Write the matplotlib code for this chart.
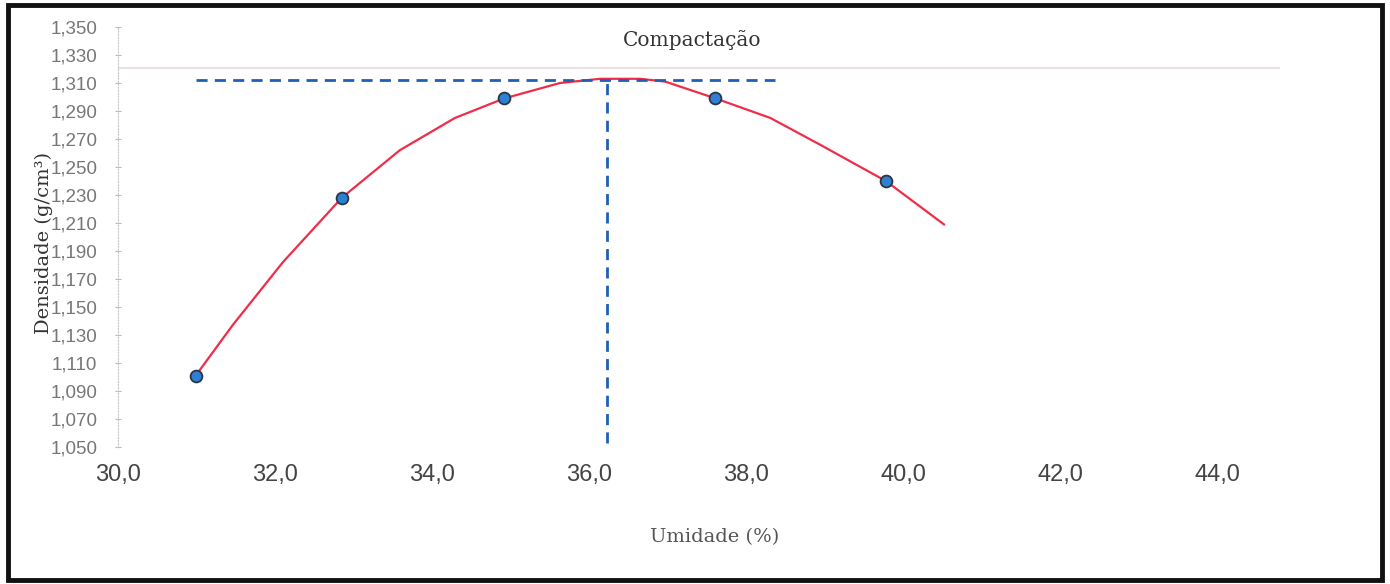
import matplotlib
matplotlib.use("Agg")
from matplotlib import pyplot as plt
from matplotlib.patches import Rectangle

# Measured points (umidade %, densidade g/cm3)
umidade = [30.99, 32.85, 34.92, 37.61, 39.78]
densidade = [1.101, 1.228, 1.299, 1.299, 1.240]

# Fitted curve
curva_x = [30.99, 31.46, 32.10, 32.85, 33.59, 34.29, 34.92, 35.63, 36.14,
           36.65, 36.97, 37.61, 38.31, 38.94, 39.78, 40.52]
curva_y = [1.101, 1.137, 1.182, 1.228, 1.262, 1.285, 1.299, 1.310, 1.313,
           1.313, 1.311, 1.299, 1.285, 1.266, 1.240, 1.209]

# Optimum (dashed guides)
umid_otima = 36.23
dens_max = 1.312
guia_x = [30.99, 38.37]
guia_y = [1.053, dens_max]

y_ticks = [1.050 + 0.020 * i for i in range(16)]
x_ticks = [30, 32, 34, 36, 38, 40, 42, 44]

fig = plt.figure(figsize=(13.9, 5.84), dpi=100)
ax = fig.add_axes([118 / 1390, 1 - 447 / 584, (1280 - 118) / 1390, (447 - 27) / 584])

ax.plot(curva_x, curva_y, color="#ef2d48", lw=1.6, zorder=2)
ax.plot(guia_x, [dens_max, dens_max], color="#1f60b4", lw=2, dashes=(4, 2.6), zorder=3)
ax.plot([umid_otima, umid_otima], guia_y, color="#1f60b4", lw=2, dashes=(4, 2.6), zorder=3)
ax.plot(umidade, densidade, "o", ms=8.5, mfc="#2f80d2", mec="#2a3644", mew=1.3, zorder=4)

# faint line at the top of the plot area
ax.axhline(1.321, color="#e6dada", lw=1.2, zorder=1)

ax.set_xlim(30, 44.8)
ax.set_ylim(1.050, 1.350)
ax.set_yticks(y_ticks)
ax.set_yticklabels([f"{v:.3f}".replace(".", ",") for v in y_ticks],
                   fontfamily="Liberation Sans", fontsize=13.5, color="#777777")
ax.set_xticks(x_ticks)
ax.set_xticklabels([f"{v:.1f}".replace(".", ",") for v in x_ticks],
                   fontfamily="Liberation Sans", fontsize=17, color="#444444")
ax.tick_params(axis="x", length=0, pad=12)
ax.tick_params(axis="y", length=4, direction="inout", color="#bbbbbb", pad=13)

for s in ["top", "right", "bottom"]:
    ax.spines[s].set_visible(False)
ax.spines["left"].set_color("#c8c8c8")
ax.spines["left"].set_linestyle(":")

fig.text(692 / 1390, 1 - 40 / 584, "Compactação", ha="center", va="center",
         fontfamily="DejaVu Serif", fontsize=14.5, color="#333333")
fig.text(715 / 1390, 1 - 537 / 584, "Umidade (%)", ha="center", va="center",
         fontfamily="DejaVu Serif", fontsize=14, color="#555555")
fig.text(44 / 1390, 1 - 243 / 584, "Densidade (g/cm³)", ha="center", va="center",
         rotation=90, fontfamily="DejaVu Serif", fontsize=14, color="#333333")

# black frame around the picture
fig.patches.append(Rectangle((8 / 1390, 4 / 584), (1382 - 8) / 1390, (579 - 4) / 584,
                             transform=fig.transFigure, fill=False,
                             edgecolor="#111111", lw=3.5))

fig.savefig("out.png", dpi=100)
